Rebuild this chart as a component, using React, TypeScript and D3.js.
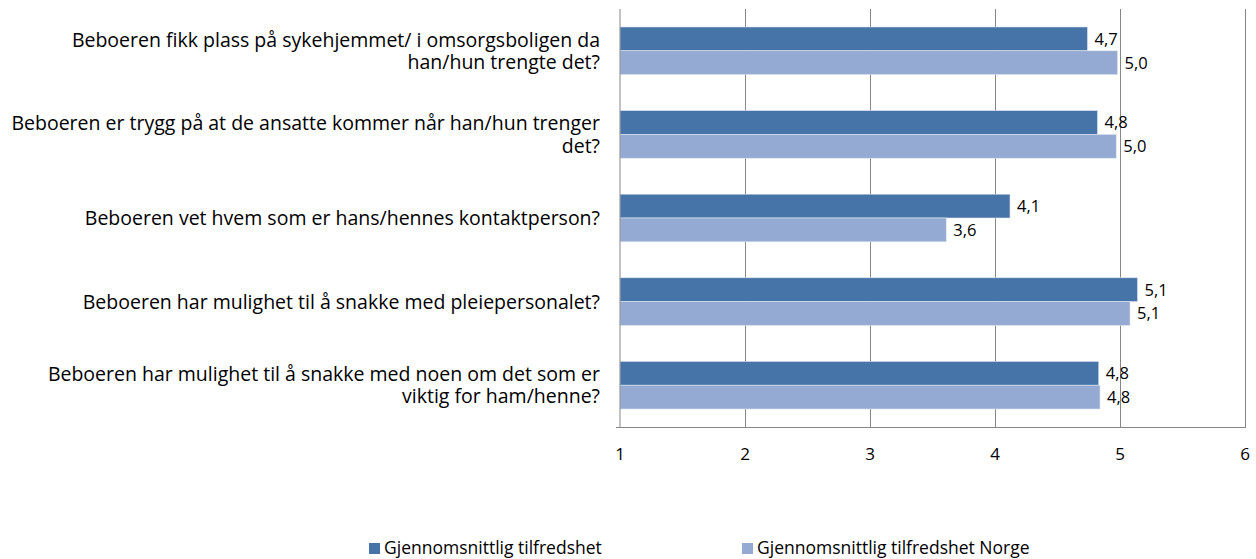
import React, { useEffect, useRef } from "react";
import * as d3 from "d3";

// survey questions (top to bottom), pre-split into lines like the original
const categories = [
  ["Beboeren fikk plass på sykehjemmet/ i omsorgsboligen da", "han/hun trengte det?"],
  ["Beboeren er trygg på at de ansatte kommer når han/hun trenger", "det?"],
  ["Beboeren vet hvem som er hans/hennes kontaktperson?"],
  ["Beboeren har mulighet til å snakke med pleiepersonalet?"],
  ["Beboeren har mulighet til å snakke med noen om det som er", "viktig for ham/henne?"],
];

const seriesNames = ["Gjennomsnittlig tilfredshet", "Gjennomsnittlig tilfredshet Norge"];
const localValues = [4.74, 4.82, 4.12, 5.14, 4.83];
const norwayValues = [4.98, 4.97, 3.61, 5.08, 4.84];
const xTicks = [1, 2, 3, 4, 5, 6];

const colors = ["#4674A9", "#95AAD2"];
const FONT = "'Open Sans', 'Liberation Sans', sans-serif";

const App = () => {
  const ref = useRef<SVGSVGElement | null>(null);

  useEffect(() => {
    if (ref.current) drawChart(ref.current);
  }, []);

  return (
    <div style={{ position: "absolute", left: 0, top: 0 }}>
      <svg ref={ref} width={1256} height={559} style={{ display: "block", background: "#fff" }} />
    </div>
  );
};

function drawChart(node: SVGSVGElement) {
  const svg = d3.select(node);
  svg.selectAll("*").remove();

  const left = 620;
  const right = 1245;
  const top = 9;
  const bottom = 427;

  const x = d3.scaleLinear().domain([1, 6]).range([left, right]);
  const y = d3
    .scaleBand<number>()
    .domain(d3.range(categories.length))
    .range([top, bottom])
    .paddingInner(0.43)
    .paddingOuter(0.215);
  const sub = d3.scaleBand<number>().domain([0, 1]).range([0, y.bandwidth()]);

  // vertical grid lines
  svg
    .append("g")
    .selectAll("line")
    .data(xTicks.slice(1))
    .join("line")
    .attr("x1", (d) => x(d) + 0.5)
    .attr("x2", (d) => x(d) + 0.5)
    .attr("y1", top)
    .attr("y2", bottom)
    .attr("stroke", "#868686")
    .attr("stroke-width", 1);

  // bars
  const data = [localValues, norwayValues];
  data.forEach((vals, s) => {
    const g = svg.append("g");
    g.selectAll("rect")
      .data(vals)
      .join("rect")
      .attr("x", x(1))
      .attr("y", (_, i) => (y(i) as number) + (sub(s) as number))
      .attr("width", (d) => x(d) - x(1))
      .attr("height", sub.bandwidth())
      .attr("fill", colors[s])
      .attr("stroke", "#dfe6f1")
      .attr("stroke-width", 0.6);

    g.selectAll("text")
      .data(vals)
      .join("text")
      .attr("x", (d) => x(d) + 7)
      .attr("y", (_, i) => (y(i) as number) + (sub(s) as number) + sub.bandwidth() / 2)
      .attr("dy", "0.36em")
      .attr("font-family", FONT)
      .attr("font-size", 16.5)
      .attr("fill", "#000")
      .text((d) => d3.format(".1f")(d).replace(".", ","));
  });

  // axes lines
  svg
    .append("line")
    .attr("x1", x(1))
    .attr("x2", x(1))
    .attr("y1", top)
    .attr("y2", bottom)
    .attr("stroke", "#868686");
  svg
    .append("line")
    .attr("x1", x(1) - 4)
    .attr("x2", x(6) + 1)
    .attr("y1", bottom + 0.5)
    .attr("y2", bottom + 0.5)
    .attr("stroke", "#868686");

  // x tick labels
  svg
    .append("g")
    .selectAll("text")
    .data(xTicks)
    .join("text")
    .attr("x", (d) => x(d))
    .attr("y", 454)
    .attr("dy", "0.36em")
    .attr("text-anchor", "middle")
    .attr("font-family", FONT)
    .attr("font-size", 17)
    .text((d) => d);

  // category labels
  const lineH = 22.5;
  const cat = svg
    .append("g")
    .selectAll("text")
    .data(categories)
    .join("text")
    .attr("text-anchor", "end")
    .attr("font-family", FONT)
    .attr("font-size", 19.5)
    .attr("fill", "#000")
    .attr("y", (_, i) => (y(i) as number) + y.bandwidth() / 2);
  cat.each(function (lines) {
    const t = d3.select(this);
    const cy = +t.attr("y");
    const start = cy - ((lines.length - 1) * lineH) / 2;
    lines.forEach((l, j) => {
      t.append("tspan")
        .attr("x", left - 20)
        .attr("y", start + j * lineH)
        .attr("dy", "0.36em")
        .text(l);
    });
  });

  // legend
  const legendX = [369, 742];
  const legend = svg
    .append("g")
    .selectAll("g")
    .data(seriesNames)
    .join("g")
    .attr("transform", (_, i) => `translate(${legendX[i]},548)`);
  legend
    .append("rect")
    .attr("x", 0)
    .attr("y", -5)
    .attr("width", 11)
    .attr("height", 11)
    .attr("fill", (_, i) => colors[i]);
  legend
    .append("text")
    .attr("x", 15)
    .attr("y", 0)
    .attr("dy", "0.36em")
    .attr("font-family", FONT)
    .attr("font-size", 17.5)
    .text((d) => d);
}

export default App;
